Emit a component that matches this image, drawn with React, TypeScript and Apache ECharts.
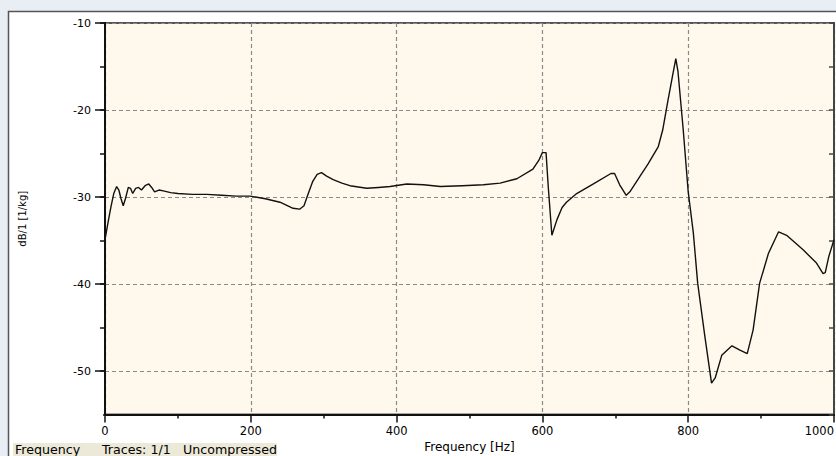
import React, { useEffect, useRef } from 'react';
import * as echarts from 'echarts';

// Frequency response trace
const freqHz: number[] = [
  0, 4, 8, 12, 16, 19, 22, 25, 28, 32, 35, 38, 42, 46, 50, 55, 60, 64, 68, 74,
  80, 90, 100, 120, 140, 160, 180, 199, 220, 240, 258, 267, 273, 278, 285, 291,
  297, 304, 313, 325, 336, 359, 375, 391, 414, 437, 460, 490, 519, 542, 565, 587,
  595, 600, 605, 608, 613, 620, 627, 633, 647, 670, 694, 699, 706, 715, 720, 734,
  745, 759, 765, 772, 778, 783, 786, 793, 800, 807, 813, 823, 832, 837, 846, 860,
  871, 881, 889, 898, 910, 924, 935, 958, 976, 985, 988, 993, 1000,
];
const levelDb: number[] = [
  -34.9, -33.0, -31.2, -29.6, -28.8, -29.2, -30.2, -31.0, -30.2, -28.9, -29.0, -29.6, -29.0, -28.9, -29.2, -28.7, -28.5, -28.9, -29.4, -29.2,
  -29.3, -29.5, -29.6, -29.7, -29.7, -29.8, -29.9, -29.9, -30.2, -30.6, -31.3, -31.4, -31.0, -29.8, -28.2, -27.4,
  -27.2, -27.6, -28.0, -28.4, -28.7, -29.0, -28.9, -28.8, -28.5, -28.6, -28.8, -28.7, -28.6, -28.4, -27.9, -26.8,
  -25.8, -24.9, -24.9, -28.8, -34.4, -32.6, -31.2, -30.6, -29.6, -28.5, -27.3, -27.3, -28.6, -29.8, -29.4, -27.6,
  -26.2, -24.2, -22.3, -19.0, -16.3, -14.1, -15.6, -22.1, -29.4, -34.1, -39.9, -46.1, -51.4, -50.8, -48.2, -47.1,
  -47.6, -48.0, -45.3, -39.9, -36.5, -34.0, -34.4, -36.1, -37.6, -38.8, -38.7, -36.8, -34.9,
];

const xMin = 0;
const xMax = 1000;
const xStep = 200;
const yMin = -55;
const yMax = -10;
const yMajor = 10;
const yMinor = 5;

const xTitle = 'Frequency [Hz]';
const yTitle = 'dB/1 [1/kg]';
const statusTexts = ['Frequency', 'Traces: 1/1', 'Uncompressed'];

const FONT = 'DejaVu Sans';

export default function App() {
  const ref = useRef<HTMLDivElement>(null);

  useEffect(() => {
    if (!ref.current) return;
    const chart = echarts.init(ref.current, undefined, { renderer: 'svg' });
    const data = freqHz.map((f, i) => [f, levelDb[i]]);
    const axisColor = '#111';
    const gridDash = { color: '#8a8a8a', type: [4, 3] as number[], width: 1.2 };
    const plain = (v: number) => String(v);

    chart.setOption({
      animation: false,
      backgroundColor: '#E9EEF5',
      grid: {
        left: 105,
        top: 23,
        right: 2,
        bottom: 41.5,
        containLabel: false,
        outerBoundsMode: 'none',
        show: true,
        backgroundColor: '#FEF9EC',
        borderColor: '#555',
        borderWidth: 2,
      },
      xAxis: {
        type: 'value',
        min: xMin,
        max: xMax,
        interval: xStep,
        name: xTitle,
        nameLocation: 'middle',
        nameGap: 23,
        nameTextStyle: { fontFamily: FONT, fontSize: 12, color: '#000' },
        axisLine: { lineStyle: { color: axisColor, width: 2 } },
        axisTick: { length: 8, lineStyle: { color: axisColor, width: 1.5 } },
        minorTick: { show: true, splitNumber: 2, length: 4, lineStyle: { color: axisColor, width: 1.5 } },
        axisLabel: {
          margin: 10,
          fontFamily: FONT,
          fontSize: 11.5,
          color: '#000',
          formatter: plain,
          alignMaxLabel: 'right',
        },
        splitLine: { show: true, lineStyle: gridDash },
      },
      yAxis: [
        {
          type: 'value',
          min: yMin,
          max: yMax,
          splitNumber: 5,
          minInterval: yMajor,
          maxInterval: yMajor,
          name: yTitle,
          nameLocation: 'middle',
          nameGap: 78,
          nameRotate: 90,
          nameTextStyle: { fontFamily: FONT, fontSize: 10, color: '#000' },
          axisLine: { show: true, lineStyle: { color: axisColor, width: 2 } },
          axisTick: { length: 10, lineStyle: { color: axisColor, width: 1.5 } },
          axisLabel: { margin: 14, fontFamily: FONT, fontSize: 11, color: '#000', showMinLabel: false, formatter: plain },
          splitLine: { show: true, lineStyle: gridDash },
        },
        {
          type: 'value',
          position: 'left',
          min: yMin,
          max: yMax,
          interval: yMinor,
          axisLine: { show: true, lineStyle: { color: axisColor, width: 2 } },
          axisTick: { length: 5, lineStyle: { color: axisColor, width: 1.5 } },
          axisLabel: { show: false },
          splitLine: { show: false },
        },
        {
          type: 'value',
          position: 'right',
          min: yMin,
          max: yMax,
          interval: yMinor,
          axisLine: { show: true, lineStyle: { color: '#444', width: 2 } },
          axisTick: { inside: true, length: 5, lineStyle: { color: '#444', width: 1.5 } },
          axisLabel: { show: false },
          splitLine: { show: false },
        },
      ],
      series: [
        {
          type: 'line',
          yAxisIndex: 0,
          data,
          showSymbol: false,
          symbol: 'none',
          lineStyle: { color: '#111', width: 1.4 },
          clip: true,
          z: 5,
        },
      ],
      graphic: [
        {
          type: 'rect',
          z: -100,
          silent: true,
          shape: { x: 8.5, y: 11.5, width: 900, height: 500 },
          style: { fill: '#FFFFFF', stroke: '#555', lineWidth: 1.5 },
        },
        {
          type: 'rect',
          z: 100,
          silent: true,
          shape: { x: 94, y: 413, width: 9, height: 3 },
          style: { fill: '#FFFFFF' },
        },
        {
          type: 'rect',
          z: 100,
          silent: true,
          shape: { x: 13, y: 443, width: 264, height: 13 },
          style: { fill: '#ECE9D8' },
        },
        {
          type: 'text',
          z: 101,
          silent: true,
          x: 15,
          y: 450,
          scaleX: 1.1,
          style: { text: statusTexts[0], fontFamily: FONT, fontSize: 11.5, fill: '#000', verticalAlign: 'middle' },
        },
        {
          type: 'text',
          z: 101,
          silent: true,
          x: 102,
          y: 450,
          scaleX: 1.1,
          style: { text: statusTexts[1], fontFamily: FONT, fontSize: 11.5, fill: '#000', verticalAlign: 'middle' },
        },
        {
          type: 'text',
          z: 101,
          silent: true,
          x: 183,
          y: 450,
          scaleX: 1.1,
          style: { text: statusTexts[2], fontFamily: FONT, fontSize: 11.5, fill: '#000', verticalAlign: 'middle' },
        },
      ],
    });

    return () => {
      chart.dispose();
    };
  }, []);

  return (
    <div
      ref={ref}
      style={{ position: 'fixed', left: 0, top: 0, width: 836, height: 456 }}
    />
  );
}
